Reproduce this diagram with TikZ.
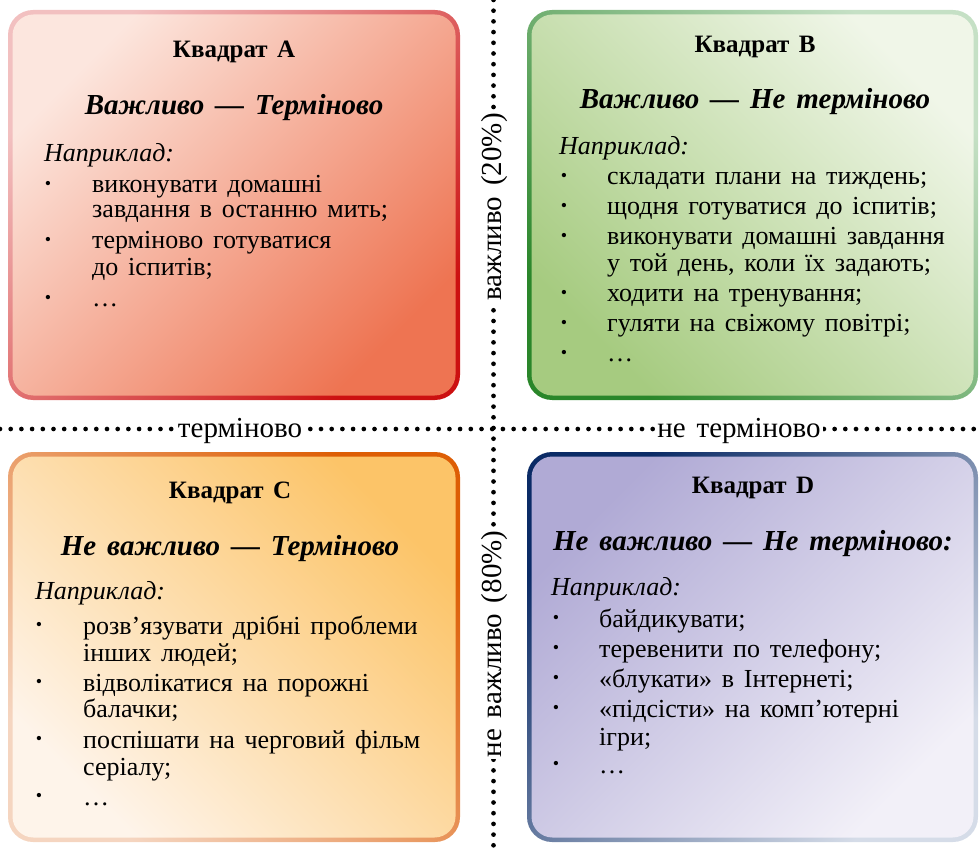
\documentclass[tikz,border=0pt]{standalone}
\usepackage{fontspec}
\setmainfont{Liberation Serif}[WordSpace=1.5]
\definecolor{aBrdL}{HTML}{F2C0C0}\definecolor{aBrdD}{HTML}{CC1111}
\definecolor{aFilL}{HTML}{FCE6DE}\definecolor{aFilD}{HTML}{EE7452}
\definecolor{bBrdL}{HTML}{C5E0C5}\definecolor{bBrdD}{HTML}{2A862A}
\definecolor{bFilL}{HTML}{F0F6E8}\definecolor{bFilD}{HTML}{A6CB80}
\definecolor{cBrdL}{HTML}{F5D5C0}\definecolor{cBrdD}{HTML}{DD5E05}
\definecolor{cFilL}{HTML}{FEF4EA}\definecolor{cFilD}{HTML}{FCC468}
\definecolor{dBrdL}{HTML}{D5DCE8}\definecolor{dBrdD}{HTML}{0B2B66}
\definecolor{dFilL}{HTML}{F2F0F8}\definecolor{dFilD}{HTML}{B0AAD5}
\tikzset{
  body/.style={font=\fontsize{26}{28}\selectfont, inner sep=0pt, anchor=base west},
  ttl/.style={font=\bfseries\fontsize{25}{28}\selectfont, inner sep=0pt, anchor=base},
  sub/.style={font=\bfseries\itshape\fontsize{29}{32}\selectfont, inner sep=0pt, anchor=base},
  eg/.style={font=\itshape\fontsize{26}{28}\selectfont, inner sep=0pt, anchor=base west},
  bul/.style={font=\fontsize{18}{18}\selectfont, inner sep=0pt, anchor=center},
  dotline/.style={line width=4.7pt, dash pattern=on 0pt off 10.7pt, line cap=round},
  axlab/.style={font=\fontsize{29}{32}\selectfont, fill=white, inner sep=2pt, anchor=base},
}
\newcommand\quadbox[9]{%
  \shade[rounded corners=25pt, top color=#5, bottom color=#6, shading angle=#9] (#1,#2) rectangle (#3,#4);
  \shade[rounded corners=21pt, top color=#7, bottom color=#8, shading angle=#9] (#1+4.5,#2+4.5) rectangle (#3-4.5,#4-4.5);}
\begin{document}
\begin{tikzpicture}[x=1pt,y=-1pt]
\useasboundingbox (0,0) rectangle (980,850);
% boxes
\quadbox{8}{10}{460}{400}{aBrdL}{aBrdD}{aFilL}{aFilD}{45}
\quadbox{527}{10}{978}{400}{bBrdL}{bBrdD}{bFilL}{bFilD}{-45}
\quadbox{8}{452}{460}{842}{cBrdD}{cBrdL}{cFilD}{cFilL}{-45}
\quadbox{527}{452}{978}{842}{dBrdD}{dBrdL}{dFilD}{dFilL}{45}
% axes
\coordinate (hl) at (0,429);
\coordinate (hr) at (980,429);
\coordinate (vt) at (493.5,0);
\coordinate (vb) at (493.5,850);
\draw[dotline] (hl) -- (hr);
\draw[dotline] (vt) -- (vb);
\node[axlab] (urg) at (240,437) {терміново};
\node[axlab] (nurg) at (739,437) {не терміново};
\node[axlab, rotate=90] (imp) at (501,207) {важливо (20\%)};
\node[axlab, rotate=90] (nimp) at (501,644) {не важливо (80\%)};
% Box A
\node[ttl] (a-t) at (234,58) {Квадрат A};
\node[sub] (a-s) at (234,115) {Важливо — Терміново};
\node[eg] (a-e) at (44,162) {Наприклад:};
\node[bul] (a-b1) at (48,185) {•};
\node[body] (a-l1) at (92,193) {виконувати домашні};
\node[body] (a-l2) at (92,218) {завдання в останню мить;};
\node[bul] (a-b2) at (48,241) {•};
\node[body] (a-l3) at (92,249) {терміново готуватися};
\node[body] (a-l4) at (92,276) {до іспитів;};
\node[bul] (a-b3) at (48,299) {•};
\node[body] (a-l5) at (92,307) {\ldots};
% Box B
\node[ttl] (b-t) at (755,53) {Квадрат B};
\node[sub] (b-s) at (755,109) {Важливо — Не терміново};
\node[eg] (b-e) at (559,155) {Наприклад:};
\node[bul] (b-b1) at (564,177) {•};
\node[body] (b-l1) at (607,185) {складати плани на тиждень;};
\node[bul] (b-b2) at (564,207) {•};
\node[body] (b-l2) at (607,215) {щодня готуватися до іспитів;};
\node[bul] (b-b3) at (564,237) {•};
\node[body] (b-l3) at (607,245) {виконувати домашні завдання};
\node[body] (b-l4) at (607,272) {у той день, коли їх задають;};
\node[bul] (b-b4) at (564,294) {•};
\node[body] (b-l5) at (607,302) {ходити на тренування;};
\node[bul] (b-b5) at (564,324) {•};
\node[body] (b-l6) at (607,332) {гуляти на свіжому повітрі;};
\node[bul] (b-b6) at (564,354) {•};
\node[body] (b-l7) at (607,362) {\ldots};
% Box C
\node[ttl] (c-t) at (230,498) {Квадрат C};
\node[sub] (c-s) at (230,555) {Не важливо — Терміново};
\node[eg] (c-e) at (35,599) {Наприклад:};
\node[bul] (c-b1) at (39,626) {•};
\node[body] (c-l1) at (83,634) {розв’язувати дрібні проблеми};
\node[body] (c-l2) at (83,661) {інших людей;};
\node[bul] (c-b2) at (39,683) {•};
\node[body] (c-l3) at (83,691) {відволікатися на порожні};
\node[body] (c-l4) at (83,717) {балачки;};
\node[bul] (c-b3) at (39,740) {•};
\node[body] (c-l5) at (83,748) {поспішати на черговий фільм};
\node[body] (c-l6) at (83,775) {серіалу;};
\node[bul] (c-b4) at (39,797) {•};
\node[body] (c-l7) at (83,805) {\ldots};
% Box D
\node[ttl] (d-t) at (753,493) {Квадрат D};
\node[sub] (d-s) at (753,550) {Не важливо — Не терміново:};
\node[eg] (d-e) at (551,595) {Наприклад:};
\node[bul] (d-b1) at (556,619) {•};
\node[body] (d-l1) at (599,627) {байдикувати;};
\node[bul] (d-b2) at (556,649) {•};
\node[body] (d-l2) at (599,657) {теревенити по телефону;};
\node[bul] (d-b3) at (556,679) {•};
\node[body] (d-l3) at (599,687) {«блукати» в Інтернеті;};
\node[bul] (d-b4) at (556,709) {•};
\node[body] (d-l4) at (599,717) {«підсісти» на комп’ютерні};
\node[body] (d-l5) at (599,745) {ігри;};
\node[bul] (d-b5) at (556,765) {•};
\node[body] (d-l6) at (599,773) {\ldots};
\end{tikzpicture}
\end{document}
